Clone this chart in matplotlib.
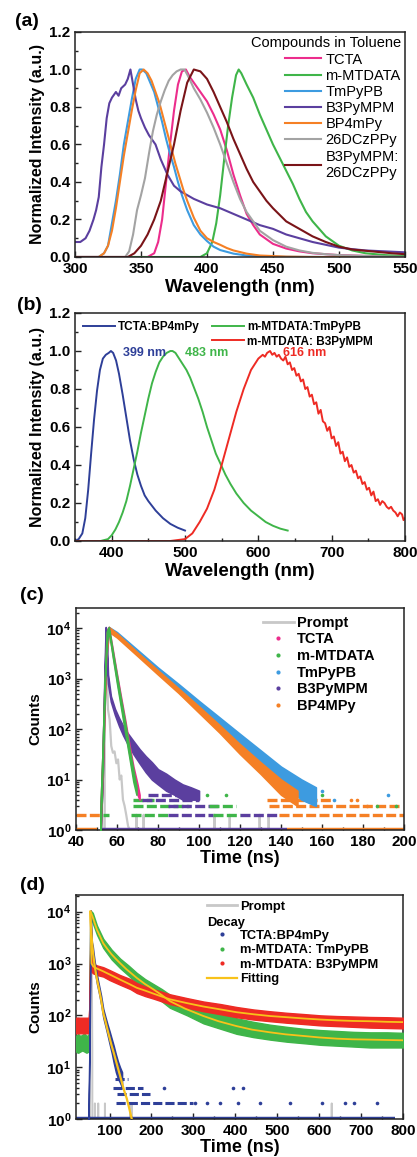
import numpy as np
import matplotlib
matplotlib.use('Agg')
import matplotlib.pyplot as plt
from matplotlib.lines import Line2D
from matplotlib.ticker import MultipleLocator, LogLocator, FuncFormatter, NullFormatter

plt.rcParams['font.family'] = ['Liberation Sans', 'DejaVu Sans']
plt.rcParams['font.weight'] = 'bold'
plt.rcParams['axes.labelweight'] = 'bold'
plt.rcParams['mathtext.fontset'] = 'custom'
plt.rcParams['mathtext.bf'] = 'Liberation Sans:bold'
plt.rcParams['mathtext.rm'] = 'Liberation Sans'

# ---------------- (a) PL spectra of single compounds in toluene
names_a = ['TCTA', 'm-MTDATA', 'TmPyPB', 'B3PyMPM', 'BP4mPy', '26DCzPPy', 'B3PyMPM:\n26DCzPPy']
colors_a = ['#ec2d8c', '#3fb549', '#3d9be0', '#5b3f9f', '#f58025', '#a3a3a3', '#7a1418']

wl_tcta = [300, 355, 360, 363, 366, 369, 372, 375, 378, 381, 384, 387, 390, 395, 400, 405, 410, 415, 420, 425,
           430, 435, 440, 450, 460, 470, 480, 500, 525, 550]
int_tcta = [0, 0, 0.02, 0.08, 0.2, 0.4, 0.6, 0.78, 0.92, 0.99, 1.0, 0.96, 0.93, 0.88, 0.83, 0.76, 0.68, 0.57, 0.44, 0.33,
            0.23, 0.17, 0.12, 0.07, 0.045, 0.03, 0.02, 0.01, 0.005, 0.0]
wl_mtd = [300, 395, 400, 404, 407, 410, 413, 416, 419, 422, 424, 426, 430, 435, 440, 445, 450, 455, 460, 465,
          470, 475, 480, 490, 500, 510, 520, 535, 550]
int_mtd = [0, 0, 0.02, 0.08, 0.18, 0.33, 0.52, 0.7, 0.85, 0.97, 1.0, 0.98, 0.92, 0.85, 0.76, 0.68, 0.6, 0.53, 0.46, 0.39,
           0.31, 0.24, 0.19, 0.11, 0.06, 0.035, 0.02, 0.01, 0.005]
wl_tmpypb = [300, 318, 322, 325, 328, 331, 334, 337, 340, 343, 346, 349, 351, 354, 357, 360, 363, 366, 369, 372,
             375, 378, 381, 385, 390, 395, 400, 405, 410, 420, 430, 445, 460, 500, 550]
int_tmpypb = [0, 0, 0.02, 0.06, 0.18, 0.3, 0.44, 0.6, 0.72, 0.84, 0.95, 1.0, 1.0, 0.98, 0.93, 0.88, 0.8, 0.72, 0.63, 0.55,
              0.48, 0.4, 0.33, 0.25, 0.17, 0.12, 0.085, 0.055, 0.037, 0.018, 0.008, 0.003, 0.001, 0, 0]
wl_b3py = [300, 304, 308, 311, 314, 316, 318, 320, 322, 324, 326, 328, 331, 333, 335, 338, 340, 342, 344, 346,
           348, 350, 353, 356, 361, 365, 370, 375, 380, 385, 390, 400, 410, 420, 430, 440, 450, 460, 470, 480,
           490, 500, 510, 520, 535, 550]
int_b3py = [0.08, 0.08, 0.1, 0.14, 0.2, 0.25, 0.32, 0.48, 0.6, 0.74, 0.82, 0.85, 0.88, 0.86, 0.9, 0.92, 0.95, 1.0, 0.92, 0.84,
            0.78, 0.74, 0.69, 0.65, 0.6, 0.52, 0.44, 0.38, 0.35, 0.33, 0.31, 0.28, 0.26, 0.23, 0.2, 0.17, 0.15, 0.12, 0.1, 0.08,
            0.065, 0.05, 0.042, 0.035, 0.03, 0.025]
wl_bp4 = [300, 318, 322, 325, 328, 331, 334, 337, 340, 343, 346, 349, 352, 355, 358, 361, 364, 367, 370, 373,
          376, 379, 382, 385, 390, 395, 400, 405, 410, 415, 420, 430, 440, 460, 480, 550]
int_bp4 = [0, 0, 0.02, 0.06, 0.14, 0.26, 0.4, 0.54, 0.66, 0.78, 0.89, 0.98, 1.0, 0.98, 0.94, 0.88, 0.82, 0.74, 0.66, 0.58,
           0.5, 0.43, 0.36, 0.3, 0.21, 0.14, 0.1, 0.08, 0.065, 0.048, 0.035, 0.018, 0.008, 0.002, 0, 0]
wl_26d = [300, 338, 341, 344, 347, 350, 353, 356, 359, 362, 365, 368, 371, 374, 377, 380, 383, 386, 390, 395,
          400, 405, 410, 415, 420, 425, 430, 440, 450, 460, 470, 480, 490, 500, 525, 550]
int_26d = [0, 0, 0.03, 0.12, 0.25, 0.33, 0.42, 0.55, 0.67, 0.76, 0.83, 0.89, 0.94, 0.97, 0.99, 1.0, 1.0, 0.96, 0.9, 0.84,
           0.77, 0.69, 0.6, 0.5, 0.4, 0.31, 0.24, 0.14, 0.09, 0.055, 0.035, 0.022, 0.015, 0.01, 0.004, 0.0]
wl_mix = [300, 340, 345, 350, 355, 360, 365, 370, 375, 380, 385, 390, 395, 400, 405, 410, 415, 420, 425, 430,
          435, 440, 445, 450, 460, 470, 480, 490, 500, 510, 525, 540, 550]
int_mix = [0, 0, 0.02, 0.06, 0.12, 0.2, 0.3, 0.45, 0.6, 0.78, 0.93, 1.0, 0.99, 0.95, 0.88, 0.8, 0.72, 0.63, 0.55, 0.47,
           0.4, 0.35, 0.3, 0.26, 0.19, 0.15, 0.11, 0.08, 0.055, 0.04, 0.03, 0.02, 0.015]

# ---------------- (b) exciplex spectra
names_b = ['TCTA:BP4mPy', 'm-MTDATA:TmPyPB', 'm-MTDATA: B3PyMPM']
colors_b = ['#2e3f98', '#3fb549', '#ee2b24']
wl_b1 = [350, 355, 360, 364, 368, 372, 376, 380, 384, 388, 392, 396, 399, 402, 406, 410, 415, 420, 425, 430,
         435, 440, 445, 450, 460, 470, 480, 490, 500]
int_b1 = [0.0, 0.01, 0.04, 0.12, 0.27, 0.46, 0.64, 0.79, 0.9, 0.96, 0.98, 0.99, 1.0, 0.99, 0.95, 0.88, 0.77, 0.65, 0.53, 0.43,
          0.35, 0.29, 0.24, 0.21, 0.16, 0.12, 0.09, 0.07, 0.055]
wl_b2 = [350, 385, 395, 400, 405, 410, 415, 420, 425, 430, 435, 440, 445, 450, 455, 460, 465, 470, 475, 480,
         483, 487, 492, 497, 502, 507, 512, 518, 524, 530, 536, 542, 548, 555, 562, 570, 580, 590, 600, 610,
         620, 630, 640]
int_b2 = [0, 0, 0.01, 0.03, 0.06, 0.1, 0.15, 0.21, 0.29, 0.38, 0.47, 0.57, 0.66, 0.75, 0.83, 0.89, 0.94, 0.97, 0.99, 1.0,
          1.0, 0.99, 0.96, 0.93, 0.9, 0.86, 0.81, 0.75, 0.68, 0.6, 0.53, 0.46, 0.41, 0.35, 0.3, 0.25, 0.2, 0.16, 0.13, 0.1,
          0.08, 0.065, 0.055]
wl_b3 = [350, 480, 500, 510, 520, 530, 540, 550, 560, 570, 580, 590, 600, 603, 606, 609, 612, 616, 619, 622,
         625, 628, 631, 634, 637, 640, 643, 646, 649, 652, 655, 658, 661, 664, 667, 670, 673, 676, 679, 682,
         685, 688, 691, 694, 697, 700, 703, 706, 709, 712, 715, 718, 721, 724, 727, 730, 733, 736, 739, 742,
         745, 748, 751, 754, 757, 760, 763, 766, 769, 772, 775, 778, 781, 784, 787, 790, 793, 796, 798, 800]
int_b3 = [0, 0, 0.01, 0.04, 0.1, 0.17, 0.27, 0.4, 0.54, 0.68, 0.8, 0.9, 0.96, 0.97, 0.98, 0.97, 0.99, 1.0, 0.98, 0.99,
          0.97, 0.98, 0.96, 0.95, 0.97, 0.93, 0.94, 0.9, 0.91, 0.87, 0.88, 0.84, 0.85, 0.8, 0.81, 0.76, 0.77, 0.72, 0.73, 0.67,
          0.69, 0.63, 0.62, 0.58, 0.6, 0.54, 0.55, 0.5, 0.52, 0.46, 0.47, 0.42, 0.44, 0.39, 0.4, 0.36, 0.37, 0.33, 0.34, 0.3,
          0.31, 0.27, 0.28, 0.24, 0.26, 0.21, 0.22, 0.19, 0.21, 0.2, 0.18, 0.17, 0.18, 0.16, 0.15, 0.13, 0.15, 0.14, 0.11, 0.12]
peak_wl = [399, 483, 616]
peak_text = ['399 nm', '483 nm', '616 nm']

# ---------------- (c) transient decays of single compounds (counts)
col_c = {'TCTA': '#ec2d8c', 'm-MTDATA': '#3fb549', 'TmPyPB': '#3d9be0', 'B3PyMPM': '#5b3f9f', 'BP4MPy': '#f58025'}
t_prompt_c = [40, 52.4, 52.7, 53.0, 54, 55, 55.6, 56.4, 57.2, 58.0, 58.8, 59.7, 60.5, 61.3, 62.1, 62.9, 63.7, 64.5, 65.4, 66.2,
              67, 69, 69.5, 70, 72.5, 73, 73.5, 107, 107.6, 108.2, 114.5, 115, 115.5, 129, 129.6, 130.2, 133.5, 134, 134.5, 200]
n_prompt_c = [0, 0, 2, 0, 300, 3000, 245, 155, 46, 34, 36, 21, 25, 10, 12, 4, 3, 2, 1.2, 1,
              0, 0, 2, 0, 0, 2, 0, 0, 2, 0, 0, 2, 0, 0, 2, 0, 0, 2, 0, 0]
# band edges (low / high) of the scattered counts
t_tm = [52, 53, 54, 55, 56, 60, 70, 80, 90, 100, 110, 120, 130, 140, 150, 157]
lo_tm = [1, 10, 300, 3000, 8500, 6800, 3000, 1350, 600, 260, 110, 48, 20, 9, 4, 3]
hi_tm = [3, 40, 1200, 9000, 10500, 8300, 3700, 1650, 780, 360, 170, 80, 38, 18, 10, 7]
t_bp = [52, 53, 54, 55, 56, 60, 70, 80, 90, 100, 110, 120, 130, 140, 148]
lo_bp = [1, 10, 300, 3000, 8500, 6500, 2800, 1200, 520, 210, 85, 32, 13, 5, 3]
hi_bp = [3, 40, 1200, 9000, 10500, 7800, 3300, 1450, 640, 280, 120, 50, 22, 10, 6]
t_tc = [52, 53, 54, 55, 56, 58, 60, 62, 64, 66, 68, 70, 71]
lo_tc = [1, 15, 500, 5000, 9000, 2800, 900, 300, 100, 32, 11, 5, 4]
hi_tc = [2, 25, 800, 8000, 10500, 3600, 1200, 420, 150, 50, 18, 8, 5]
t_mt = [52, 53, 54, 55, 56, 58, 60, 62, 64, 66, 68, 69.5]
lo_mt = [1, 20, 600, 5000, 9000, 2600, 800, 260, 85, 28, 9, 5]
hi_mt = [3, 40, 1000, 8500, 10500, 3300, 1100, 370, 130, 42, 15, 7]
t_b3 = [52, 53, 54, 54.5, 55, 55.6, 57, 59, 61, 63, 65, 68, 71, 74, 77, 80, 84, 88, 92, 96, 100]
lo_b3 = [1, 10, 800, 8000, 3000, 800, 350, 190, 115, 75, 52, 32, 21, 14, 10, 8, 6, 5, 4, 4, 4]
hi_b3 = [2, 30, 2000, 10500, 6000, 1200, 450, 250, 165, 115, 85, 58, 40, 29, 22, 16, 13, 10, 8, 7, 6]
# single-count background rows
fl_c_series = ['BP4MPy', 'B3PyMPM', 'BP4MPy', 'BP4MPy', 'm-MTDATA', 'm-MTDATA', 'B3PyMPM', 'm-MTDATA', 'B3PyMPM', 'BP4MPy',
               'm-MTDATA', 'B3PyMPM', 'm-MTDATA', 'BP4MPy', 'm-MTDATA', 'B3PyMPM', 'BP4MPy', 'B3PyMPM']
fl_c_level = [1, 1, 1, 2, 2, 2, 2, 2, 2, 2, 3, 3, 3, 3, 4, 4, 4, 5]
fl_c_start = [40, 52, 143, 40, 53, 67, 85, 107, 120, 139, 68, 85, 105, 134, 68, 72, 133, 75]
fl_c_end = [50, 143, 200, 52, 56, 85, 107, 120, 139, 200, 95, 110, 118, 198, 78, 100, 165, 95]
dot_c_series = ['m-MTDATA', 'm-MTDATA', 'm-MTDATA', 'm-MTDATA', 'TmPyPB', 'TmPyPB', 'TmPyPB', 'BP4MPy', 'BP4MPy',
                'B3PyMPM', 'B3PyMPM', 'TmPyPB', 'm-MTDATA', 'BP4MPy']
dot_c_t = [104, 113, 160, 187, 154, 160, 192, 174, 177, 88, 92, 166, 196, 182]
dot_c_n = [5, 5, 5, 3, 5, 6, 5, 4, 4, 6, 7, 4, 3, 3]

# ---------------- (d) transient decays of exciplexes
c_prompt = '#c8c8c8'
c_fit = '#f8c21a'
t_prompt_d = [20, 52, 53.5, 55, 56.5, 58, 59, 60, 64.5, 65, 65.5, 72.5, 73, 73.5, 88.5, 89, 89.5, 148.5, 149, 149.5,
              152.5, 153, 153.5, 629, 630, 631, 800]
n_prompt_d = [0, 0, 800, 10000, 3000, 400, 20, 0, 0, 2, 0, 0, 2, 0, 0, 2, 0, 0, 2, 0,
              0, 2, 0, 0, 2, 0, 0]
t_r = [20, 50, 52, 53, 54, 55, 56, 57, 60, 70, 85, 100, 125, 150, 165, 185, 205, 244, 285, 324,
       365, 403, 443, 483, 523, 563, 603, 642, 682, 722, 762, 800]
lo_r = [45, 45, 80, 300, 2000, 6000, 1500, 700, 650, 600, 560, 480, 390, 320, 270, 235, 210, 165, 140, 120,
        105, 92, 83, 77, 72, 68, 64, 62, 60, 58, 57, 56]
hi_r = [90, 90, 150, 600, 5000, 10500, 3000, 1100, 1000, 920, 850, 750, 600, 500, 420, 360, 320, 255, 215, 185,
        165, 145, 130, 120, 112, 106, 100, 97, 95, 93, 92, 90]
t_g = [20, 25, 30, 35, 40, 45, 50, 52, 53, 54, 55, 60, 70, 85, 105, 125, 145, 165, 185, 205,
       225, 244, 285, 324, 365, 403, 443, 483, 523, 563, 603, 642, 682, 722, 762, 800]
lo_g = [20, 19, 20, 21, 20, 19, 20, 40, 300, 2500, 8000, 6000, 3600, 2000, 1200, 820, 590, 420, 310, 240,
        185, 140, 100, 70, 55, 44, 38, 34, 31, 29, 27, 26, 25, 24, 24, 24]
hi_g = [40, 44, 40, 42, 45, 40, 42, 120, 900, 6000, 10500, 9500, 5400, 3000, 1850, 1250, 920, 660, 500, 400,
        320, 250, 180, 135, 108, 88, 75, 66, 60, 55, 52, 50, 48, 47, 47, 46]
t_b = [50, 52, 53, 54, 55, 56, 57, 58, 60, 62, 65, 70, 75, 80, 85, 90, 95, 100, 105, 110, 115, 120, 125, 130]
lo_b = [1, 10, 60, 700, 6000, 4000, 2200, 1600, 1300, 1000, 700, 400, 260, 160, 90, 62, 42, 28, 19, 12, 8, 6, 5, 4]
hi_b = [3, 25, 200, 2000, 10500, 7000, 3500, 2600, 2200, 1600, 1050, 600, 380, 240, 135, 95, 68, 50, 36, 26, 18, 13, 10, 8]
t_fit_g = [55, 60, 65, 70, 77, 85, 95, 105, 115, 125, 140, 165, 185, 205, 225, 244, 280, 324, 360, 403,
           440, 483, 520, 563, 600, 642, 680, 722, 760, 800]
n_fit_g = [10000, 7800, 5900, 4470, 3400, 2450, 1900, 1500, 1230, 1020, 780, 527, 400, 316, 245, 188, 135, 97, 77, 62,
           53, 47, 43, 40, 37.5, 35.5, 34.5, 34, 33.5, 33]
t_fit_r = [54, 55, 56, 57, 61, 70, 85, 105, 125, 145, 165, 185, 205, 225, 244, 285, 324, 365, 403, 443,
           483, 523, 563, 603, 642, 682, 722, 762, 800]
n_fit_r = [10000, 5000, 1800, 1000, 880, 800, 707, 590, 490, 410, 340, 300, 262, 230, 204, 172, 148, 130, 115, 105,
           97, 92, 87, 83, 80, 78, 77, 75, 74]
t_fit_b = [54, 56, 58, 61, 65, 70, 75, 80, 85, 90, 95, 100, 105, 110, 115, 120, 125, 130, 135, 141, 147, 153, 160]
n_fit_b = [10000, 5000, 2700, 1500, 850, 500, 320, 200, 112, 78, 53, 37, 26, 19, 13.5, 9.6, 6.9, 4.9, 3.5, 2.5, 1.6, 1.0, 0.6]
fl_d_level = [1, 2, 3, 4, 6]
fl_d_start = [20, 115, 117, 109, 112]
fl_d_end = [780, 300, 197, 181, 144]
dot_d_t = [304, 332, 364, 407, 459, 531, 606, 662, 682, 738, 230, 395, 419]
dot_d_n = [2, 2, 2, 2, 2, 2, 2, 2, 2, 2, 4, 4, 4]


def style(ax):
    for s in ax.spines.values():
        s.set_linewidth(1.1)
        s.set_color('#222222')
    ax.tick_params(which='both', direction='in', top=False, right=False, labelsize=11, width=1, color='#222222')
    ax.tick_params(which='major', length=4)
    ax.tick_params(which='minor', length=2.5)


def log_label(v, pos):
    return r'$\mathbf{10^{%d}}$' % int(round(np.log10(v)))


fig = plt.figure(figsize=(4.17, 11.57), dpi=100)
W, H = 417, 1157

# ---- (a)
ax = fig.add_axes([75 / W, 1 - 257 / H, 330 / W, 225 / H])
spectra_a = [(wl_tcta, int_tcta), (wl_mtd, int_mtd), (wl_tmpypb, int_tmpypb), (wl_b3py, int_b3py),
             (wl_bp4, int_bp4), (wl_26d, int_26d), (wl_mix, int_mix)]
for (wl, it), name, c in zip(spectra_a, names_a, colors_a):
    ax.plot(wl, it, color=c, lw=1.5, label=name)
ax.set_xlim(300, 550)
ax.set_ylim(0, 1.2)
ax.xaxis.set_major_locator(MultipleLocator(50))
ax.yaxis.set_major_locator(MultipleLocator(0.2))
ax.yaxis.set_minor_locator(MultipleLocator(0.1))
style(ax)
ax.set_xlabel('Wavelength (nm)', fontsize=13.5, labelpad=2)
ax.set_ylabel('Normalized Intensity (a.u.)', fontsize=11.5, labelpad=3)
ax.legend(title='Compounds in Toluene', loc='upper right', frameon=False,
          prop={'weight': 'normal', 'size': 10.5}, title_fontproperties={'weight': 'normal', 'size': 10.5},
          handlelength=2.5, labelspacing=0.15, borderaxespad=0.1, borderpad=0.2, handletextpad=0.3,
          alignment='right')
fig.text(15 / W, 1 - 22 / H, '(a)', fontsize=14, weight='bold', va='center')

# ---- (b)
ax = fig.add_axes([75 / W, 1 - 541 / H, 330 / W, 228 / H])
lines_b = []
for (wl, it), name, c in zip([(wl_b1, int_b1), (wl_b2, int_b2), (wl_b3, int_b3)], names_b, colors_b):
    ln, = ax.plot(wl, it, color=c, lw=1.4, label=name)
    lines_b.append(ln)
for p, txt, c in zip(peak_wl, peak_text, colors_b):
    ax.annotate(txt, xy=(p, 1.0), xytext=(9, -1.5), textcoords='offset points', color=c,
                fontsize=9, weight='bold', va='center', ha='left')
ax.set_xlim(350, 800)
ax.set_ylim(0, 1.2)
ax.xaxis.set_major_locator(MultipleLocator(100))
ax.xaxis.set_minor_locator(MultipleLocator(50))
ax.yaxis.set_major_locator(MultipleLocator(0.2))
ax.yaxis.set_minor_locator(MultipleLocator(0.1))
style(ax)
ax.set_xlabel('Wavelength (nm)', fontsize=13.5, labelpad=2)
ax.set_ylabel('Normalized Intensity (a.u.)', fontsize=11.5, labelpad=3)
blank = Line2D([], [], alpha=0)
ax.legend([lines_b[0], blank, lines_b[1], lines_b[2]], [names_b[0], '', names_b[1], names_b[2]],
          ncol=2, loc='upper left', frameon=False, prop={'weight': 'bold', 'size': 8.5},
          handlelength=2.7, columnspacing=1.0, labelspacing=0.25, borderaxespad=0.25, handletextpad=0.3)
fig.text(17 / W, 1 - 305 / H, '(b)', fontsize=14, weight='bold', va='center')

# ---- (c)
ax = fig.add_axes([76 / W, 1 - 830 / H, 328 / W, 222 / H])
ax.set_yscale('log', nonpositive='clip')
ax.plot(t_prompt_c, n_prompt_c, color=c_prompt, lw=1.6, zorder=1)
for s, lv, a, b in zip(fl_c_series, fl_c_level, fl_c_start, fl_c_end):
    ls = '-' if lv == 1 else (0, (3, 1))
    ax.hlines(lv, a, b, color=col_c[s], lw=3.2 if lv == 1 else 2.4, linestyles=ls, zorder=2)
for s, t, n in zip(dot_c_series, dot_c_t, dot_c_n):
    ax.plot(t, n, 'o', color=col_c[s], ms=2.6, mew=0, zorder=2)
bands_c = [('TmPyPB', t_tm, lo_tm, hi_tm), ('BP4MPy', t_bp, lo_bp, hi_bp), ('B3PyMPM', t_b3, lo_b3, hi_b3),
           ('TCTA', t_tc, lo_tc, hi_tc), ('m-MTDATA', t_mt, lo_mt, hi_mt)]
for s, t, lo, hi in bands_c:
    ax.fill_between(t, lo, hi, color=col_c[s], lw=1.2, edgecolor=col_c[s], zorder=3)
ax.set_xlim(40, 200)
ax.set_ylim(1, 2.5e4)
ax.xaxis.set_major_locator(MultipleLocator(20))
ax.xaxis.set_minor_locator(MultipleLocator(10))
ax.yaxis.set_major_locator(LogLocator(base=10))
ax.yaxis.set_minor_locator(LogLocator(base=10, subs=np.arange(2, 10)))
ax.yaxis.set_major_formatter(FuncFormatter(log_label))
ax.yaxis.set_minor_formatter(NullFormatter())
style(ax)
ax.set_xlabel('Time (ns)', fontsize=13, labelpad=1)
ax.set_ylabel('Counts', fontsize=11, labelpad=3)
handles_c = [Line2D([], [], color=c_prompt, lw=2)] + \
            [Line2D([], [], ls='none', marker='o', ms=3, mew=0, color=col_c[k]) for k in col_c]
ax.legend(handles_c, ['Prompt', 'TCTA', 'm-MTDATA', 'TmPyPB', 'B3PyMPM', 'BP4MPy'],
          loc='upper left', bbox_to_anchor=(0.57, 0.965), frameon=False, prop={'weight': 'bold', 'size': 10.5},
          handlelength=2.1, labelspacing=0.18, borderaxespad=0, borderpad=0, handletextpad=0.2)
fig.text(20 / W, 1 - 595 / H, '(c)', fontsize=14, weight='bold', va='center')

# ---- (d)
ax = fig.add_axes([76 / W, 1 - 1119 / H, 327 / W, 224 / H])
ax.set_yscale('log', nonpositive='clip')
c_blue, c_green, c_red = '#2e3f98', '#3fb549', '#ee2b24'
ax.plot(t_prompt_d, n_prompt_d, color=c_prompt, lw=1.4, zorder=1)
for lv, a, b in zip(fl_d_level, fl_d_start, fl_d_end):
    ls = '-' if lv == 1 else (0, (3, 1))
    ax.hlines(lv, a, b, color=c_blue, lw=3.2 if lv == 1 else 2.2, linestyles=ls, zorder=2)
ax.plot(dot_d_t, dot_d_n, 'o', color=c_blue, ms=2.6, mew=0, zorder=2)
ax.fill_between(t_g, lo_g, hi_g, color=c_green, lw=1, edgecolor=c_green, zorder=3)
ax.fill_between(t_r, lo_r, hi_r, color=c_red, lw=1, edgecolor=c_red, zorder=4)
ax.fill_between(t_b, lo_b, hi_b, color=c_blue, lw=1, edgecolor=c_blue, zorder=5)
ax.plot(t_fit_g, n_fit_g, color=c_fit, lw=1.3, zorder=6)
ax.plot(t_fit_r, n_fit_r, color=c_fit, lw=1.3, zorder=6)
ax.plot(t_fit_b, n_fit_b, color=c_fit, lw=1.6, zorder=6)
ax.set_xlim(20, 800)
ax.set_ylim(1, 2.1e4)
ax.xaxis.set_major_locator(MultipleLocator(100))
ax.xaxis.set_minor_locator(MultipleLocator(50))
ax.yaxis.set_major_locator(LogLocator(base=10))
ax.yaxis.set_minor_locator(LogLocator(base=10, subs=np.arange(2, 10)))
ax.yaxis.set_major_formatter(FuncFormatter(log_label))
ax.yaxis.set_minor_formatter(NullFormatter())
style(ax)
ax.set_xlabel('Time (ns)', fontsize=13, labelpad=1)
ax.set_ylabel('Counts', fontsize=11, labelpad=3)
handles_d = [Line2D([], [], color=c_prompt, lw=2), Line2D([], [], alpha=0),
             Line2D([], [], ls='none', marker='o', ms=3, mew=0, color=c_blue),
             Line2D([], [], ls='none', marker='o', ms=3, mew=0, color=c_green),
             Line2D([], [], ls='none', marker='o', ms=3, mew=0, color=c_red),
             Line2D([], [], color=c_fit, lw=1.6)]
ax.legend(handles_d, ['Prompt', '', 'TCTA:BP4mPy', 'm-MTDATA: TmPyPB', 'm-MTDATA: B3PyMPM', 'Fitting'],
          loc='upper left', bbox_to_anchor=(0.40, 0.975), frameon=False, prop={'weight': 'bold', 'size': 9.3},
          handlelength=2.3, labelspacing=0.19, borderaxespad=0, borderpad=0, handletextpad=0.25)
ax.text(0.40, 0.874, 'Decay', transform=ax.transAxes, fontsize=9.3, weight='bold', va='center', ha='left')
fig.text(20 / W, 1 - 886 / H, '(d)', fontsize=14, weight='bold', va='center')

fig.savefig('out.png', dpi=100)
